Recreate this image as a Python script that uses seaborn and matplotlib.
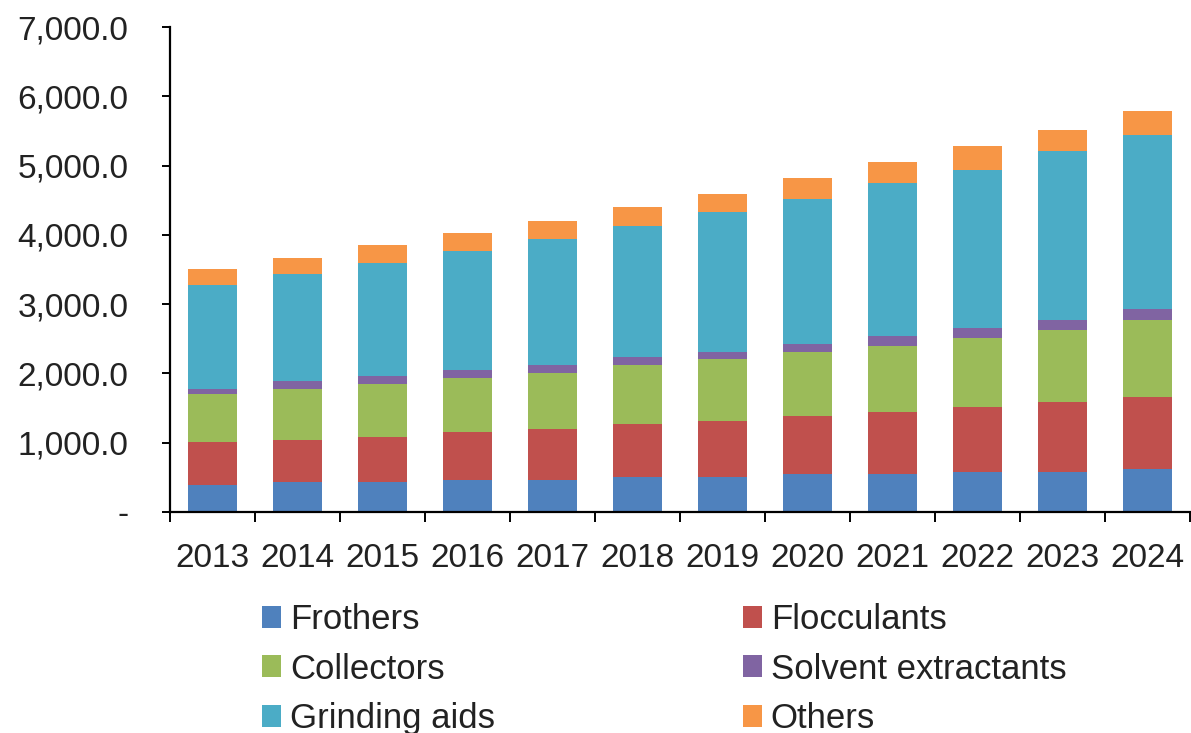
import matplotlib
matplotlib.use("Agg")
import matplotlib.pyplot as plt
import seaborn as sns
import numpy as np
import pandas as pd
from matplotlib.ticker import FixedLocator, FuncFormatter

years = ["2013", "2014", "2015", "2016", "2017", "2018", "2019", "2020", "2021", "2022", "2023", "2024"]
frothers = [390, 428, 428, 466, 466, 505, 505, 544, 544, 582, 582, 620]
flocculants = [616, 615, 654, 693, 736, 769, 808, 846, 896, 929, 1005, 1044]
collectors = [697, 732, 769, 770, 804, 847, 890, 923, 955, 1000, 1039, 1111]
solvent = [72, 120, 116, 116, 115, 120, 110, 116, 149, 148, 149, 154]
grinding = [1505, 1539, 1622, 1725, 1814, 1886, 2011, 2083, 2203, 2281, 2434, 2511]
others = [226, 236, 264, 250, 268, 270, 265, 307, 308, 346, 308, 346]

series_names = ["Frothers", "Flocculants", "Collectors", "Solvent extractants", "Grinding aids", "Others"]
series_vals = [frothers, flocculants, collectors, solvent, grinding, others]
colors = ["#4F81BD", "#C0504D", "#9BBB59", "#8064A2", "#4BACC6", "#F79646"]

sns.set_theme(style="white")
plt.rcParams["font.family"] = ["Liberation Sans", "DejaVu Sans"]

fig = plt.figure(figsize=(11.91, 7.33), dpi=100)
ax = fig.add_axes([170 / 1191, (733 - 512) / 733, 1020 / 1191, (512 - 27) / 733])

bottom = np.zeros(len(years))
for name, vals, col in zip(series_names, series_vals, colors):
    df = pd.DataFrame({"year": years, "value": vals})
    sns.barplot(data=df, x="year", y="value", color=col, bottom=bottom,
                width=0.565, ax=ax, label=name, edgecolor="none", linewidth=0,
                saturation=1)
    bottom = bottom + np.array(vals)

ax.set_xlim(-0.5, len(years) - 0.5)
ax.set_ylim(0, 7000)
ax.set_xlabel("")
ax.set_ylabel("")

for s in ["top", "right"]:
    ax.spines[s].set_visible(False)
for s in ["left", "bottom"]:
    ax.spines[s].set_color("black")
    ax.spines[s].set_linewidth(1.6)

yt = np.arange(0, 7001, 1000)
ax.yaxis.set_major_locator(FixedLocator(yt))
ax.yaxis.set_major_formatter(FuncFormatter(lambda v, p: "-" if v == 0 else f"{v:,.1f}"))
ax.tick_params(axis="y", which="major", direction="out", length=6, width=1.4,
               color="black", pad=24, labelsize=24, labelcolor="#222222", left=True)

ax.xaxis.set_minor_locator(FixedLocator(np.arange(-0.5, len(years), 1.0)))
ax.tick_params(axis="x", which="major", length=0, pad=22, labelsize=24, labelcolor="#222222")
ax.tick_params(axis="x", which="minor", direction="out", length=7, width=1.4,
               color="black", bottom=True)

handles, labels = ax.get_legend_handles_labels()
order = [0, 2, 4, 1, 3, 5]
if ax.get_legend() is not None:
    ax.get_legend().remove()
fig.legend([handles[i] for i in order], [labels[i] for i in order],
           ncol=2, loc="upper left", bbox_to_anchor=(262 / 1191, 1 - 603 / 733),
           frameon=False, fontsize=25, handlelength=0.55, handleheight=0.6,
           handletextpad=0.25, columnspacing=7.15, labelspacing=0.48,
           borderpad=0, borderaxespad=0, labelcolor="#222222")

fig.savefig("out.png", dpi=100)
